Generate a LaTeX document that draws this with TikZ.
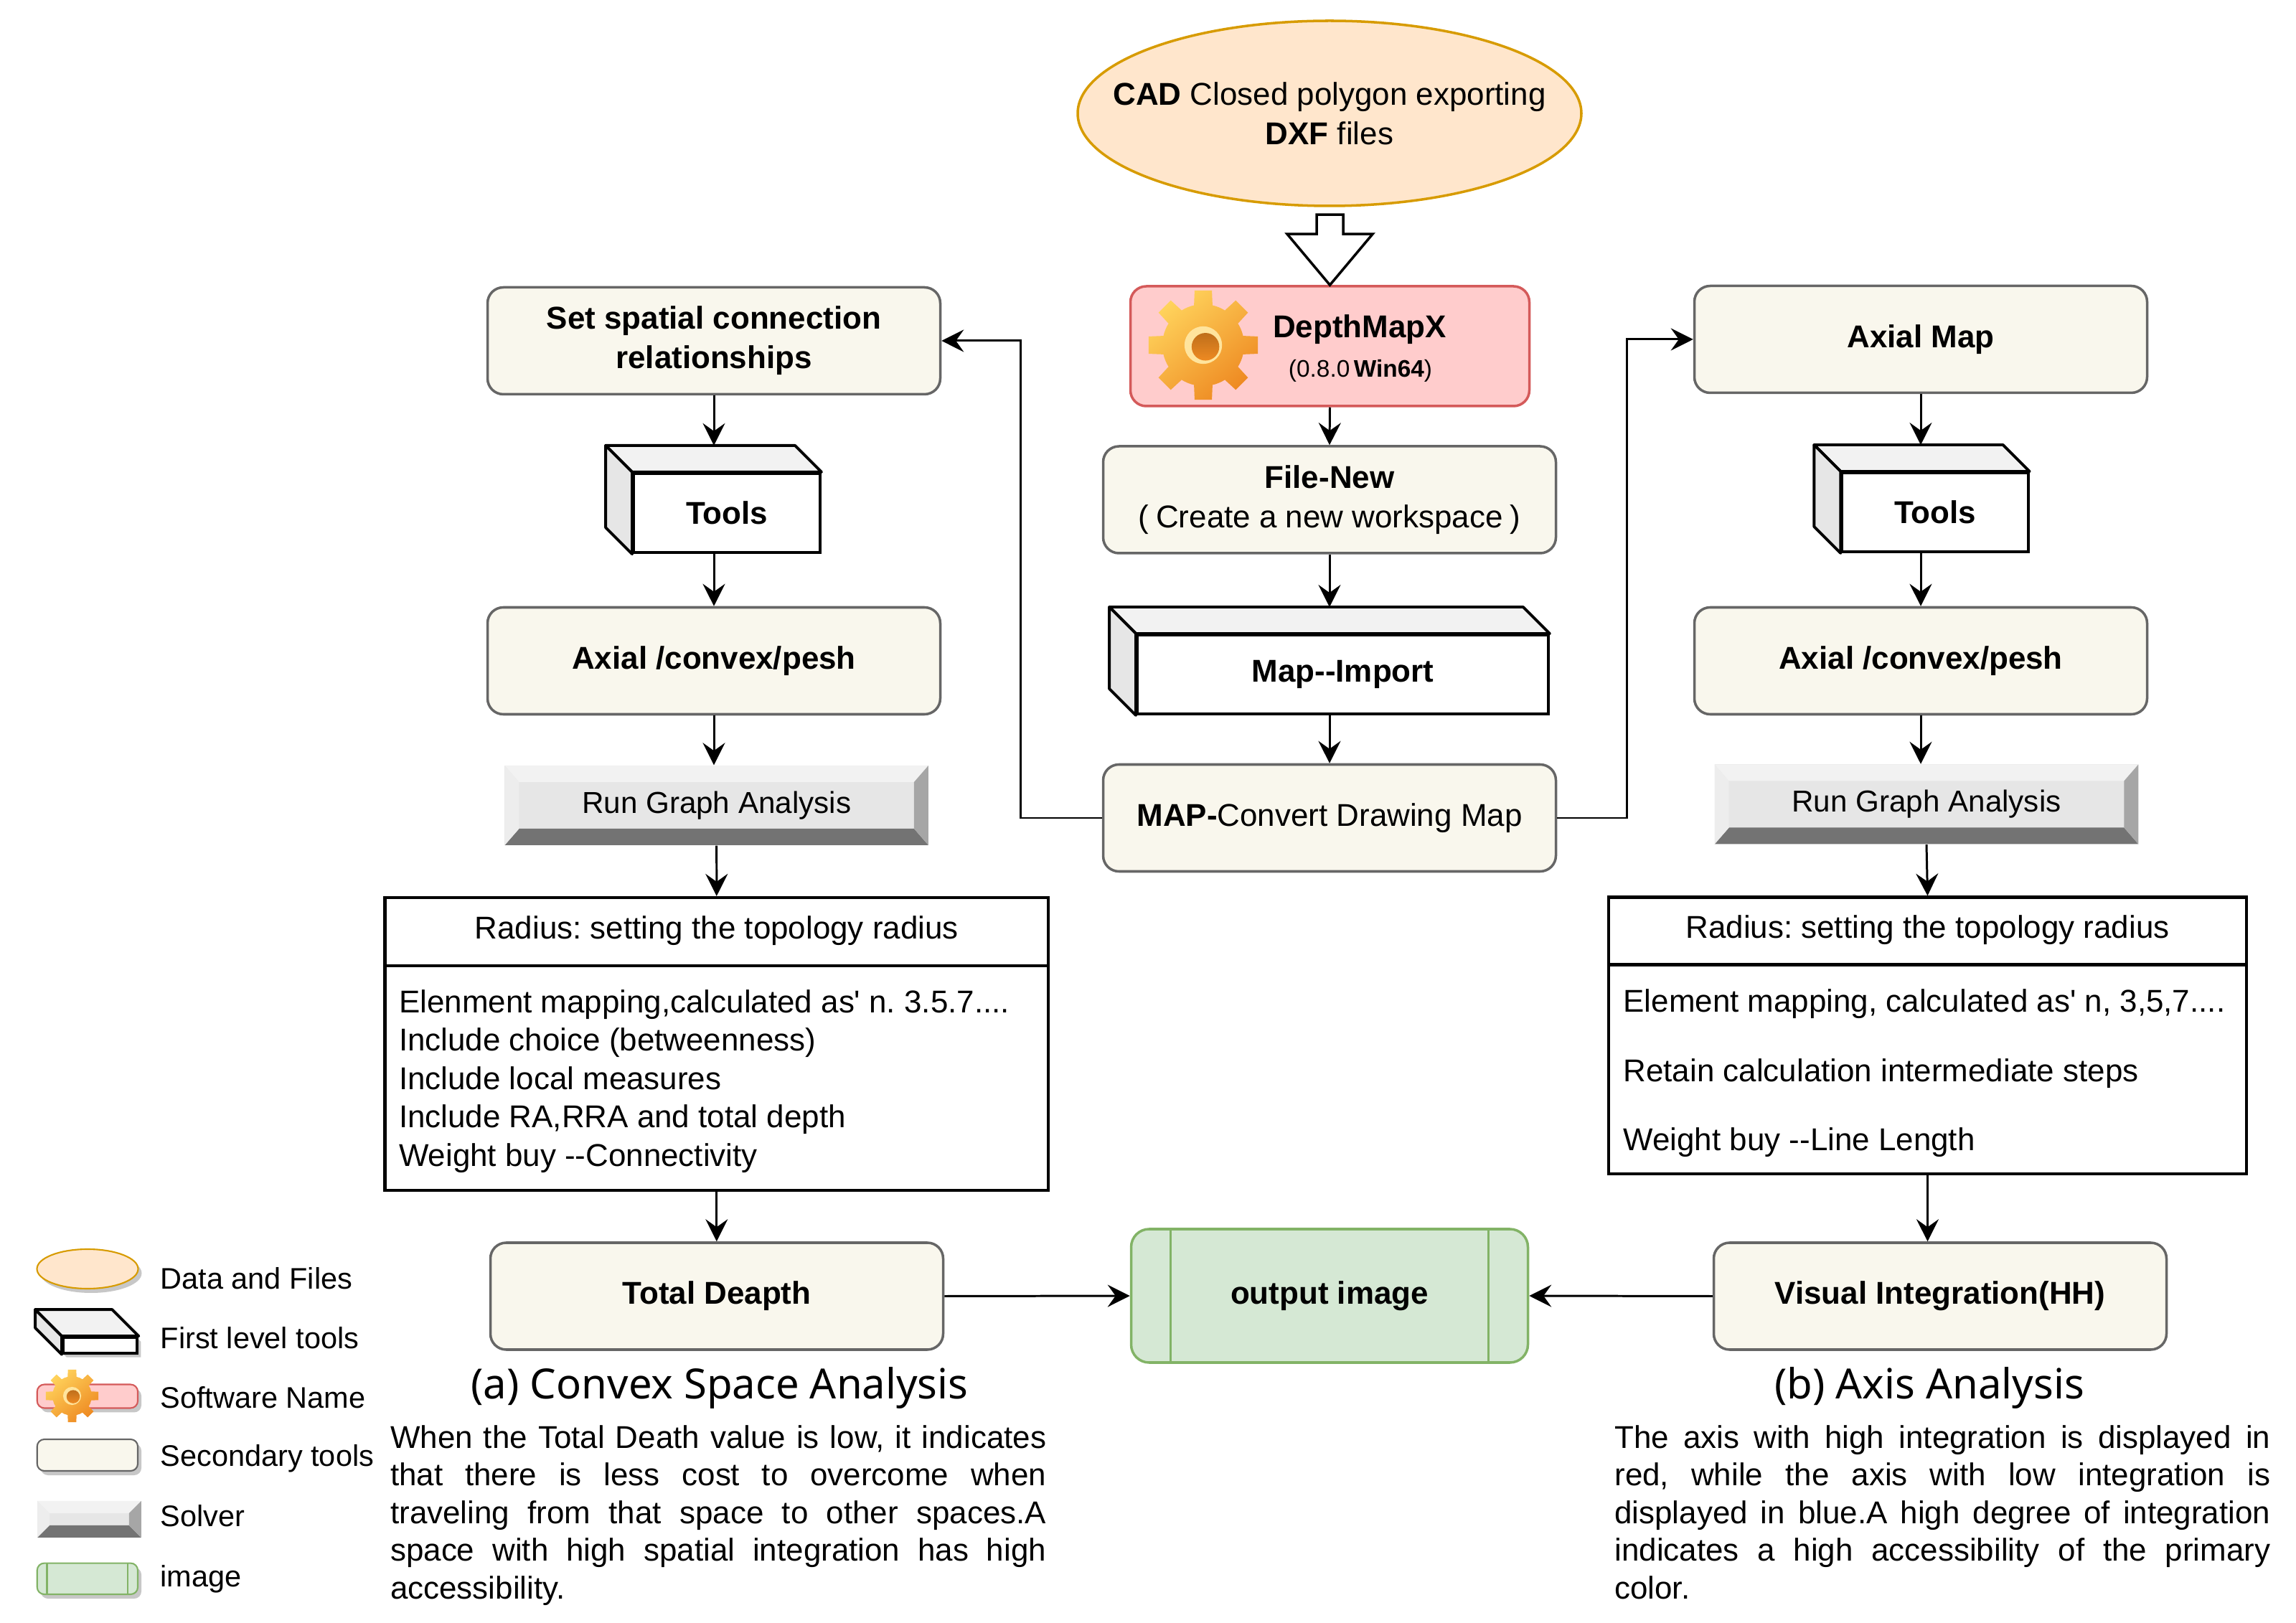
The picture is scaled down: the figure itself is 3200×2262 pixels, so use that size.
\documentclass[tikz,border=0pt]{standalone}
\usepackage{fontspec}
\setmainfont{Liberation Sans}
\newfontfamily\capfont{Noto Sans}
\usetikzlibrary{calc, positioning, arrows.meta, shapes.geometric, shadows}

\definecolor{filefill}{HTML}{FFE6CC}
\definecolor{fileline}{HTML}{D79B00}
\definecolor{softfill}{HTML}{FFCCCC}
\definecolor{softline}{HTML}{D45A5A}
\definecolor{secfill}{HTML}{F9F7ED}
\definecolor{secline}{HTML}{666666}
\definecolor{imgfill}{HTML}{D5E8D4}
\definecolor{imgline}{HTML}{82B366}
\definecolor{toptone}{HTML}{F2F2F2}
\definecolor{sidetone}{HTML}{E6E6E6}
\definecolor{bevmid}{HTML}{E6E6E6}
\definecolor{bevtop}{HTML}{F2F2F2}
\definecolor{bevleft}{HTML}{EDEDED}
\definecolor{bevright}{HTML}{A6A6A6}
\definecolor{bevbot}{HTML}{737373}
\definecolor{gearlight}{HTML}{FFD35C}
\definecolor{geardark}{HTML}{EE8A22}

\newcommand\mainsize{\fontsize{12.5}{15.6}\selectfont}
\newcommand\jline[1]{\makebox[91.4mm][s]{#1}}

% back faces of a 3D tool box
\newcommand\toolback[1]{%
  \filldraw[toolface, fill=toptone] (#1.north west) -- ++(-37,-37) -- ($(#1.north east)+(-37,-37)$) -- (#1.north east) -- cycle;
  \filldraw[toolface, fill=sidetone] (#1.north west) -- ++(-37,-37) -- ($(#1.south west)+(-37,-37)$) -- (#1.south west) -- cycle;
}

% bevelled solver faces
\newcommand\bevelfaces[2]{%
  \coordinate (bnw) at (path picture bounding box.north west);
  \coordinate (bne) at (path picture bounding box.north east);
  \coordinate (bsw) at (path picture bounding box.south west);
  \coordinate (bse) at (path picture bounding box.south east);
  \fill[bevtop] (bnw) -- (bne) -- ++(-#1,#2) -- ($(bnw)+(#1,#2)$) -- cycle;
  \fill[bevbot] (bsw) -- (bse) -- ++(-#1,-#2) -- ($(bsw)+(#1,-#2)$) -- cycle;
  \fill[bevleft] (bnw) -- ($(bnw)+(#1,#2)$) -- ($(bsw)+(#1,-#2)$) -- (bsw) -- cycle;
  \fill[bevright] (bne) -- ($(bne)+(-#1,#2)$) -- ($(bse)+(-#1,-#2)$) -- (bse) -- cycle;
}

\newcommand\imglines[1]{%
  \draw[imgline, line width=0.8pt]
    ($(path picture bounding box.north west)+(#1,0)$) -- ($(path picture bounding box.south west)+(#1,0)$)
    ($(path picture bounding box.north east)+(-#1,0)$) -- ($(path picture bounding box.south east)+(-#1,0)$);
}

% gear icon
\newcommand\drawgear[3]{%
  \begin{scope}[shift={(#1,#2)}]
    \shade[top color=gearlight, bottom color=geardark, shading angle=40]
      (0,0) circle ({0.74*#3})
      \foreach \a in {0,45,...,315}{
        ({\a-14}:{0.7*#3}) -- ({\a-9}:{#3}) -- ({\a+9}:{#3}) -- ({\a+14}:{0.7*#3}) -- cycle};
    \fill[gearlight!60!white] (0,0) circle ({0.34*#3});
    \shade[top color=geardark!80!black, bottom color=geardark] ({0.04*#3},{0.03*#3}) circle ({0.25*#3});
  \end{scope}
}

\begin{document}
\frenchspacing
\begin{tikzpicture}[x=0.1mm, y=-0.1mm,
    arr/.style={-{Stealth[length=3.1mm, width=3.1mm, inset=1.1mm]}, line width=0.85pt},
    datafile/.style={ellipse, draw=fileline, fill=filefill, line width=1pt, inner sep=0pt},
    softbox/.style={draw=softline, fill=softfill, rounded corners=2.2mm, line width=1pt, inner sep=0pt},
    secbox/.style={draw=secline, fill=secfill, rounded corners=2.2mm, line width=1pt, inner sep=0pt, minimum width=63.1mm, minimum height=14.9mm, align=center, font=\bfseries\mainsize},
    toolbox/.style={draw, fill=white, line width=1.1pt, inner sep=0pt, font=\bfseries\mainsize},
    toolface/.style={draw, line width=1.1pt, line join=round},
    solver/.style 2 args={fill=bevmid, inner sep=0pt, font=\fontsize{12}{14}\selectfont, path picture={\bevelfaces{#1}{#2}}},
    listbox/.style={draw, line width=1.2pt, inner sep=0pt},
    imgbox/.style={draw=imgline, fill=imgfill, rounded corners=2.5mm, line width=1pt, inner sep=0pt, font=\bfseries\mainsize, path picture={\imglines{#1}}},
    imgbox/.default=55,
    legshadow/.style={drop shadow={shadow xshift=0.5mm, shadow yshift=-0.6mm, fill=black!22, opacity=1}},
    legtext/.style={anchor=base west, inner sep=0pt, font=\fontsize{11.8}{14}\selectfont}
]
\useasboundingbox (0,0) rectangle (3200,2262);

% source data
\node[datafile, minimum width=70.2mm, minimum height=25.8mm] (CAD) at (1853,158) {};
\node[align=center, font=\mainsize] (CADtxt) at (CAD.center) {\textbf{CAD} Closed polygon exporting\\\textbf{DXF} files};

% software
\node[softbox, minimum width=55.6mm, minimum height=16.7mm] (DMX) at (1853.5,482.5) {};
\drawgear{1677}{481}{77}
\node[font=\bfseries\mainsize] (DMXname) at (1895,459) {DepthMapX};
\node[font=\fontsize{9.5}{11}\selectfont] (DMXver) at (1896,517) {(0.8.0\,\textbf{Win64})};
\draw[line width=1pt, fill=white] (DMX.north) -- ++(-59.5,-71) -- ++(41,0) -- ++(0,-27) -- ++(37,0) -- ++(0,27) -- ++(41,0) -- cycle;

% centre column
\node[secbox] (FileNew) at (1853,696.5) {File-New\\{\mdseries(\hspace{0.22em}Create a new workspace\hspace{0.22em})}};
\node[toolbox, minimum width=57.3mm, minimum height=11mm] (MapImp) at (1871.5,940) {Map-{}-Import};
\toolback{MapImp}
\node[secbox] (MAPconv) at (1853,1140) {MAP-{\mdseries Convert Drawing Map}};
\node[imgbox, minimum width=55.3mm, minimum height=18.6mm] (Out) at (1853,1806) {output image};

% left column: convex space
\node[secbox] (SetL) at (995,475) {Set spatial connection\\relationships};
\node[toolbox, minimum width=26mm, minimum height=11.04mm] (ToolsL) at (1013,715) {Tools};
\toolback{ToolsL}
\node[secbox] (AxL) at (995,921) {Axial /convex/pesh};
\node[solver={20}{23}, minimum width=59.05mm, minimum height=11.1mm] (RunL) at (998.7,1122.5) {Run Graph Analysis};
\node[listbox, minimum width=92.45mm, minimum height=40.8mm] (RadL) at (998.8,1455) {};
\draw[line width=1.2pt] ($(RadL.north west)+(0,97)$) -- ($(RadL.north east)+(0,97)$);
\node[font=\mainsize] (RadLhead) at ($(RadL.north)+(0,48.5)$) {Radius: setting the topology radius};
\node[anchor=north west, align=left, inner sep=0pt, font=\fontsize{12.5}{15.2}\selectfont] (RadLbody) at ($(RadL.north west)+(21,130)$)
  {Elenment mapping,calculated as\textquotesingle{} n. 3.5.7....\\Include choice (betweenness)\\Include local measures\\Include RA,RRA and total depth\\Weight buy -{}-Connectivity};
\node[secbox] (TotalD) at (999,1806.5) {Total Deapth};

% right column: axis
\node[secbox] (AxMap) at (2677,473) {Axial Map};
\node[toolbox, minimum width=25.95mm, minimum height=11mm] (ToolsR) at (2697,714) {Tools};
\toolback{ToolsR}
\node[secbox] (AxR) at (2677,921) {Axial /convex/pesh};
\node[solver={20}{23}, minimum width=59.06mm, minimum height=11.1mm] (RunR) at (2685,1121) {Run Graph Analysis};
\node[listbox, minimum width=88.9mm, minimum height=38.55mm] (RadR) at (2686.5,1443.3) {};
\draw[line width=1.2pt] ($(RadR.north west)+(0,96)$) -- ($(RadR.north east)+(0,96)$);
\node[font=\mainsize] (RadRhead) at ($(RadR.north)+(0,48)$) {Radius: setting the topology radius};
\node[anchor=north west, align=left, inner sep=0pt, font=\fontsize{12.5}{27.4}\selectfont] (RadRbody) at ($(RadR.north west)+(22,130)$)
  {Element mapping, calculated as\textquotesingle{} n, 3,5,7....\\Retain calculation intermediate steps\\Weight buy -{}-Line Length};
\node[secbox] (VisInt) at (2704,1806.5) {Visual Integration(HH)};

% connectors
\draw[arr] (DMX.south) -- (FileNew.north);
\coordinate (MapImpTop) at ($(MapImp.north)+(0,-37)$);
\draw[arr] (FileNew.south) -- (FileNew.south |- MapImpTop);
\draw[arr] (FileNew.south |- MapImp.south) -- (MAPconv.north);
\draw[arr] (MAPconv.west) -- ++(-113,0) |- (SetL.east);
\draw[arr] (MAPconv.east) -- ++(97,0) |- (AxMap.west);

\coordinate (ToolsLtop) at ($(ToolsL.north)+(0,-37)$);
\draw[arr] (SetL.south) -- (SetL.south |- ToolsLtop);
\draw[arr] (SetL.south |- ToolsL.south) -- (AxL.north);
\draw[arr] (AxL.south) -- (AxL.south |- RunL.north);
\draw[arr] (RunL.south) -- (RadL.north);
\draw[arr] (RadL.south) -- (RadL.south |- TotalD.north);
\draw[arr] (TotalD.east) -- (Out.west);

\coordinate (ToolsRtop) at ($(ToolsR.north)+(0,-37)$);
\draw[arr] (AxMap.south) -- (AxMap.south |- ToolsRtop);
\draw[arr] (AxMap.south |- ToolsR.south) -- (AxR.north);
\draw[arr] (AxR.south) -- (AxR.south |- RunR.north);
\draw[arr] (RunR.south) -- (RadR.north);
\draw[arr] (RadR.south) -- (RadR.south |- VisInt.north);
\draw[arr] (VisInt.west) -- (Out.east);

% captions and notes
\node[font=\capfont\fontsize{16.5}{20}\selectfont] (CapA) at (1003,1934) {(a) Convex Space Analysis};
\node[font=\capfont\fontsize{16.5}{20}\selectfont] (CapB) at (2689,1934) {(b) Axis Analysis};
\node[anchor=north west, align=left, inner sep=0pt, font=\fontsize{12.5}{14.9}\selectfont] (NoteA) at (543.5,1986)
  {\jline{When the Total Death value is low, it indicates}\\\jline{that there is less cost to overcome when}\\\jline{traveling from that space to other spaces.A}\\\jline{space with high spatial integration has high}\\accessibility.};
\node[anchor=north west, align=left, inner sep=0pt, font=\fontsize{12.5}{14.9}\selectfont] (NoteB) at (2249.7,1986)
  {\jline{The axis with high integration is displayed in}\\\jline{red, while the axis with low integration is}\\\jline{displayed in blue.A high degree of integration}\\\jline{indicates a high accessibility of the primary}\\color.};

% legend
\node[datafile, legshadow, line width=0.6pt, minimum width=14.1mm, minimum height=5.5mm] (LegFile) at (122,1768.5) {};
\node[legtext] (LegFileTxt) at (223,1796) {Data and Files};
\fill[black!22, shift={(5,6)}] (51.7,1828.6) -- (155,1828.6) -- (191.4,1864) -- (191.4,1885.7) -- (88,1885.7) -- (51.7,1853.6) -- cycle;
\node[toolbox, minimum width=10.34mm, minimum height=2.17mm] (LegTool) at (139.7,1874.9) {};
\toolback{LegTool}
\node[legtext] (LegToolTxt) at (223,1879) {First level tools};
\node[softbox, legshadow, line width=0.6pt, rounded corners=1mm, minimum width=14.03mm, minimum height=3.29mm] (LegSoft) at (121.9,1946) {};
\drawgear{100.5}{1945.5}{37}
\node[legtext] (LegSoftTxt) at (223,1962) {Software Name};
\node[secbox, legshadow, line width=0.6pt, rounded corners=1mm, minimum width=14.03mm, minimum height=4.4mm] (LegSec) at (121.9,2028) {};
\node[legtext] (LegSecTxt) at (223,2043) {Secondary tools};
\node[solver={17}{17}, minimum width=14.5mm, minimum height=5.1mm] (LegSolver) at (124.4,2117.4) {};
\node[legtext] (LegSolverTxt) at (223,2127) {Solver};
\node[imgbox=14, legshadow, line width=0.6pt, rounded corners=1mm, minimum width=14.03mm, minimum height=4.34mm] (LegImg) at (121.9,2200.3) {};
\node[legtext] (LegImgTxt) at (223,2211.4) {image};
\end{tikzpicture}
\end{document}
